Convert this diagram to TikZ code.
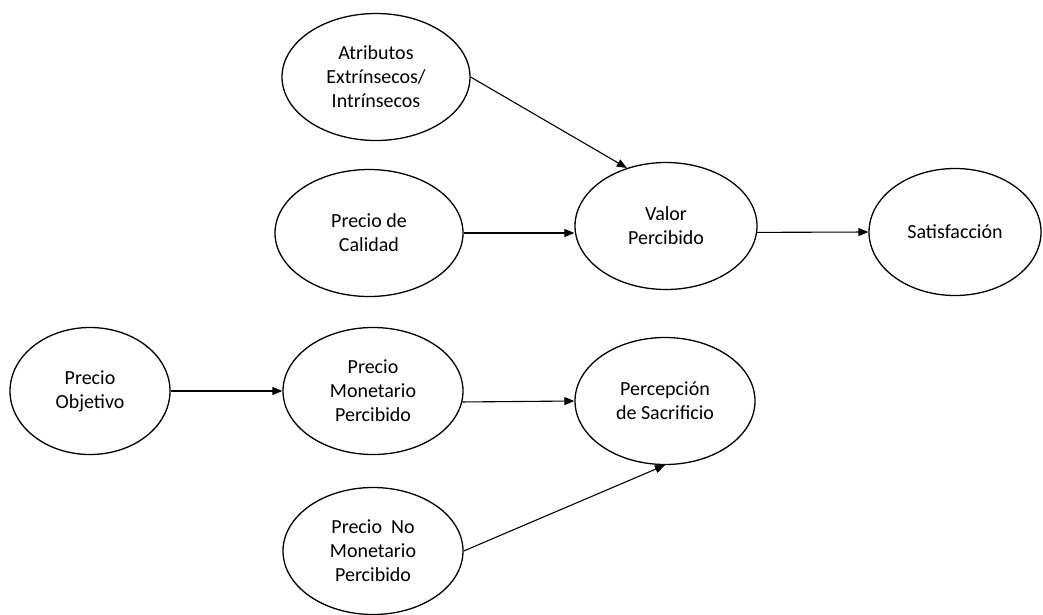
\documentclass[tikz,border=0pt]{standalone}
\usepackage{fontspec}
\setmainfont{Carlito}
\usetikzlibrary{arrows.meta,shapes.geometric}

\begin{document}
\begin{tikzpicture}[x=1pt,y=-1pt,
  bubble/.style={draw,ellipse,line width=1.3pt,inner sep=0pt,
    minimum width=#1,minimum height=127pt,align=center,
    font=\fontsize{20}{24}\selectfont},
  bubble/.default=182pt,
  flecha/.style={-{Triangle[length=10pt,width=8pt]},line width=1.1pt}]
  \useasboundingbox (0,0) rectangle (1043,614);
  % upper row
  \node[bubble=188pt] (atributos) at (376,77) {Atributos\\Extrínsecos/\\Intrínsecos};
  \node[bubble=188pt] (calidad) at (369,233) {Precio de\\Calidad};
  \node[bubble] (valor) at (666,226) {Valor\\Percibido};
  \node[bubble=172pt] (satisf) at (955,232) {Satisfacción};
  % lower row
  \node[bubble=160pt] (objetivo) at (90,391) {Precio\\Objetivo};
  \node[bubble=180pt] (monetario) at (373,391) {Precio\\Monetario\\Percibido};
  \node[bubble=180pt] (percepcion) at (665,401) {Percepción\\de Sacrificio};
  \node[bubble=180pt] (nomonet) at (373,551) {Precio\ \ No\\Monetario\\Percibido};

  \draw[flecha] (atributos.east) -- (valor.124);
  \draw[flecha] (calidad.east) -- (calidad.east -| valor.west);
  \draw[flecha] (valor.-4) -- (satisf.west);
  \draw[flecha] (objetivo.east) -- (monetario.west);
  \draw[flecha] (monetario.-7) -- (percepcion.west);
  \draw[flecha] (nomonet.east) -- (percepcion.south);
\end{tikzpicture}
\end{document}
